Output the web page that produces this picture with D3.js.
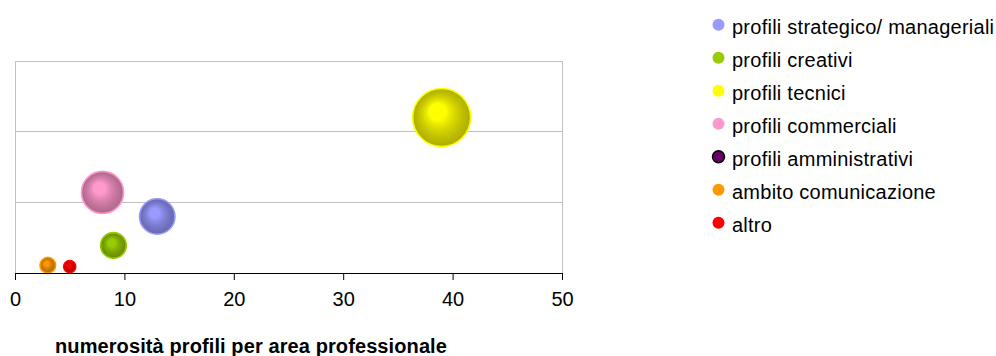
<!DOCTYPE html>
<html><head><meta charset="utf-8">
<script src="https://cdn.jsdelivr.net/npm/d3@7/dist/d3.min.js"></script>
<style>body{margin:0;background:#fff}svg{display:block}</style>
</head><body>
<svg id="c" width="996" height="356"></svg>
<script>
const series = ["profili strategico/ manageriali","profili creativi","profili tecnici","profili commerciali","profili amministrativi","ambito comunicazione","altro"];
const colors = ["#9999FF","#99CC00","#FFFF00","#FF99CC","#660066","#FF9900","#FF0000"];
const xValues = [13, 9, 39, 8, null, 3, 5];
const yValues = [8.0, 3.9, 22.0, 11.4, null, 1.1, 0.9];
const sizes   = [8.2, 4.3, 22.0, 11.6, null, 1.6, 0.95];
const xTicks = [0,10,20,30,40,50];
const yTicks = [0,10,20,30];
const xTitle = "numerosità profili per area professionale";

const svg = d3.select("#c");
const L=15, R=562, T=61, B=273;
const FONT = "Liberation Sans, Arial, sans-serif";
const x = d3.scaleLinear().domain([0,50]).range([L,R]);
const y = d3.scaleLinear().domain([0,30]).range([B,T]);
const r = d3.scaleSqrt().domain([0,22]).range([0,29]);

// plot frame & grid
svg.append("g").selectAll("line").data(yTicks.slice(1)).join("line")
  .attr("x1",L).attr("x2",R).attr("y1",d=>y(d)).attr("y2",d=>y(d))
  .attr("stroke","#c0c0c0").attr("stroke-width",1).attr("shape-rendering","crispEdges");
svg.append("line").attr("x1",L).attr("x2",L).attr("y1",T).attr("y2",B).attr("stroke","#c0c0c0").attr("shape-rendering","crispEdges");
svg.append("line").attr("x1",R).attr("x2",R).attr("y1",T).attr("y2",B).attr("stroke","#c0c0c0").attr("shape-rendering","crispEdges");

// gradients
const defs = svg.append("defs");
colors.forEach((c,i)=>{
  const base = d3.rgb(c);
  const g = defs.append("radialGradient").attr("id","g"+i)
    .attr("cx","50%").attr("cy","50%").attr("r","50%").attr("fx","40%").attr("fy","36%");
  const mix=(k)=>{const h=d3.rgb(base.r*k,base.g*k,base.b*k);return h.formatHex();};
  g.append("stop").attr("offset","0%").attr("stop-color",c);
  g.append("stop").attr("offset","28%").attr("stop-color",c);
  g.append("stop").attr("offset","40%").attr("stop-color",mix(0.92));
  g.append("stop").attr("offset","60%").attr("stop-color",mix(0.82));
  g.append("stop").attr("offset","80%").attr("stop-color",mix(0.74));
  g.append("stop").attr("offset","100%").attr("stop-color",mix(0.68));
});

const data = series.map((s,i)=>({s,i,x:xValues[i],y:yValues[i],size:sizes[i],c:colors[i]})).filter(d=>d.x!=null);
data.sort((a,b)=>b.size-a.size);
svg.append("g").selectAll("circle").data(data).join("circle")
  .attr("cx",d=>x(d.x)).attr("cy",d=>y(d.y)).attr("r",d=>r(d.size))
  .attr("fill",d=>"url(#g"+d.i+")").attr("stroke",d=>d.c).attr("stroke-width",1.6);

// x axis
const ax = svg.append("g").attr("transform",`translate(0,${B})`)
  .call(d3.axisBottom(x).tickValues(xTicks).tickSize(7).tickSizeOuter(0).tickPadding(12));
ax.select(".domain").attr("stroke","#000");
ax.selectAll(".tick line").attr("stroke","#000");
ax.selectAll("text").attr("font-family",FONT).attr("font-size",20).attr("fill","#000");

svg.append("text").attr("x",251).attr("y",353).attr("text-anchor","middle")
  .attr("font-family",FONT).attr("font-weight","bold").attr("font-size",20)
  .attr("letter-spacing",0.1).attr("fill","#000").text(xTitle);

// legend
const lg = svg.append("g").selectAll("g").data(series).join("g")
  .attr("transform",(d,i)=>`translate(718.5,${24.7+i*33})`);
lg.append("circle").attr("r",6).attr("fill",(d,i)=>colors[i]).attr("stroke",(d,i)=>i===4?"#000":"none").attr("stroke-width",1.5);
lg.append("text").attr("x",13.5).attr("y",9.3).text(d=>d)
  .attr("font-family",FONT).attr("font-size",20).attr("letter-spacing",0.25).attr("fill","#000");
</script>
</body></html>
